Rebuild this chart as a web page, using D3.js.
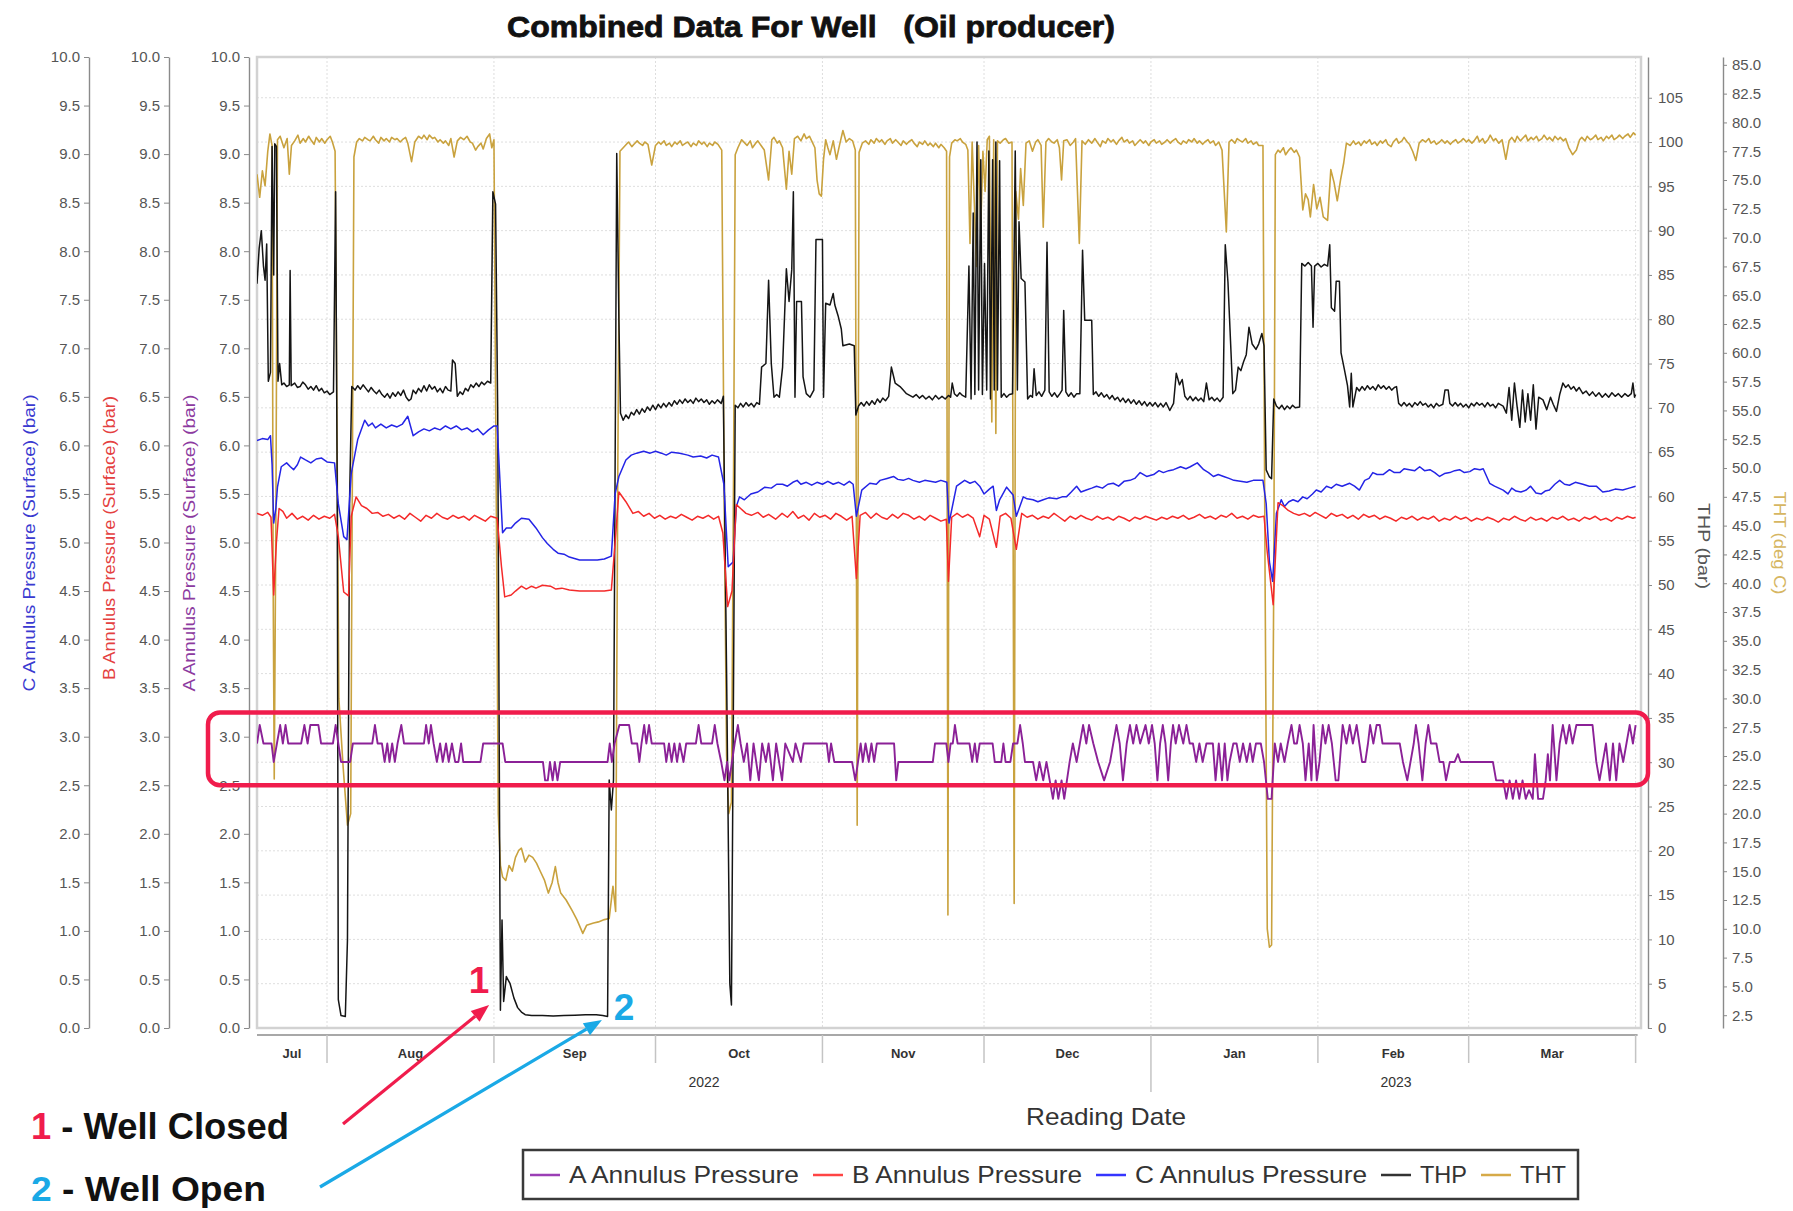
<!DOCTYPE html>
<html><head><meta charset="utf-8">
<script src="https://cdn.jsdelivr.net/npm/d3@7"></script>
<style>
html,body{margin:0;padding:0;background:#fff;}
svg{display:block;}
text{font-family:"Liberation Sans",Arial,Helvetica,sans-serif;}
</style></head><body>
<svg id="chart" width="1793" height="1211"></svg>
<script>
// ---------------- DATA ----------------
const startDate = Date.UTC(2022, 6, 19);   // day 0
const endDate = Date.UTC(2023, 3, 2);
const leftTicks = d3.range(0, 10.001, 0.5);
const thpTicks = d3.range(0, 106, 5);
const thtTicks = d3.range(2.5, 85.01, 2.5);
const monthLabels = ["Jul","Aug","Sep","Oct","Nov","Dec","Jan","Feb","Mar"];
const yearLabels = ["2022","2023"];
const seriesNames = ["A Annulus Pressure","B Annulus Pressure","C Annulus Pressure","THP","THT"];
const axisTitles = ["C Annulus Pressure (Surface) (bar)","B Annulus Pressure (Surface) (bar)","A Annulus Pressure (Surface) (bar)","THP (bar)","THT (deg C)"];
const chartTitle = "Combined Data For Well   (Oil producer)";
const highlightRange = [2.5, 3.25];          // A annulus band (bar)
const wellClosed = {label:"1", text:" - Well Closed", day:43.1, thp:2.6};
const wellOpen   = {label:"2", text:" - Well Open",   day:64.05, thp:0.9};

// [day since 2022-07-19, value]
const tht = [[0,75.5],[0.5,73.5],[1,75.8],[1.5,74.5],[2,77.5],[2.4,79],[2.8,78],[3,40],[3.2,23],[3.5,45],[3.8,78.5],[4.3,78.8],[5,77.8],[5.6,78.6],[6,75.5],[6.4,78],[7,78.4],[7.6,78.9],[8,78.2],[8.6,78.6],[9,78.3],[9.6,78.8],[10,78.5],[10.6,78.1],[11,78.7],[11.6,78.3],[12,78.6],[12.6,78.2],[13,78.5],[13.6,78.8],[14,78.3],[14.5,77.5],[15.2,30],[16,24],[16.8,19],[17.4,20],[18,77],[18.5,78.3],[19,78.6],[19.6,78.4],[20,78.7],[20.6,78.5],[21,78.4],[21.6,78.8],[22,78.5],[22.6,78.2],[23,78.7],[23.6,78.4],[24,78.6],[24.6,78.3],[25,78.7],[25.6,78.5],[26,78.6],[26.6,78.3],[27,78.5],[27.6,78.7],[28,78.2],[28.7,76.6],[29.3,78.3],[30,78.8],[30.6,78.6],[31,78.9],[31.6,78.5],[32,78.9],[32.6,78.6],[33,78.7],[33.6,78.3],[34,78.5],[34.6,78.2],[35,78.4],[35.6,78],[36,78.6],[36.6,77],[37.2,78.4],[37.8,78.7],[38.4,78.5],[39,78.8],[39.6,78.3],[40,78.2],[40.6,77.6],[41,77.9],[41.6,78.2],[42,77.7],[42.6,78.6],[43.2,79],[43.6,77.8],[44,78.5],[44.4,50],[44.8,20],[45.2,15.5],[45.6,14.5],[46.2,14.2],[46.8,15.5],[47.4,15],[48,16.2],[48.6,16.8],[49.1,17],[49.8,15.8],[50.5,16.4],[51.2,16.2],[51.9,15.7],[52.6,15],[53.4,14.2],[54.1,13.1],[54.8,14],[55.4,15.4],[55.9,14],[56.4,13.1],[57.4,12.5],[58.5,11.6],[59.4,10.8],[60.5,9.6],[61.2,10.3],[62.5,10.5],[63.4,10.6],[64.5,10.8],[65.4,10.9],[66.1,13.7],[66.6,11.5],[67,50],[67.4,77.5],[68,77.8],[68.6,78.1],[69,78.3],[69.6,77.9],[70,78.1],[70.6,78.4],[71,78.2],[71.6,78],[72,78.3],[72.6,78.1],[73.3,76.3],[74,78],[74.6,78.3],[75,78.1],[75.6,78.4],[76,78],[76.6,78.2],[77,77.9],[77.6,78.3],[78,78.1],[78.6,78.4],[79,78],[79.6,78.2],[80,78.3],[80.6,77.9],[81,78.2],[81.6,78],[82,78.4],[82.6,78.1],[83,78.3],[83.6,77.9],[84,78.2],[84.6,78],[85,78.3],[85.6,78.1],[86.3,77.6],[86.8,45],[87.2,25],[87.6,20],[88.1,21],[88.5,50],[88.8,77.2],[89.3,77.8],[90,78.5],[90.6,78.2],[91,78],[91.6,78.4],[92,77.8],[92.6,78.2],[93,78.4],[93.6,78],[94.2,77.6],[95,75],[95.6,78.5],[96,78.7],[96.6,78.2],[97,78.4],[97.6,77.8],[98.3,74.2],[98.8,77.5],[99.3,75.5],[99.8,78.6],[100.4,78.8],[101,78.4],[101.6,79],[102,78.6],[102.6,78.8],[103,78.4],[103.6,77.8],[104,75],[104.4,73.8],[104.8,73.6],[105.2,76.8],[105.6,78.5],[106,77.8],[106.4,77.2],[107,78.4],[107.6,76.8],[108.2,78.1],[108.8,79.3],[109.4,78.3],[110,78.6],[110.6,78.4],[111.1,77.6],[111.45,19],[111.8,77.4],[112.4,78.2],[113,78.4],[113.6,78.1],[114,78.5],[114.6,78.2],[115,78.6],[115.6,78.3],[116,78.5],[116.6,78.1],[117,78.4],[117.6,78.6],[118,78.2],[118.6,78.5],[119,78.3],[119.6,78],[120,78.4],[120.6,78.1],[121,78.3],[121.6,78.5],[122,78.2],[122.6,77.9],[123,78.3],[123.6,78.1],[124,78.4],[124.6,78],[125,78.2],[125.6,77.9],[126,78.2],[126.6,77.8],[127,78.1],[127.6,77.8],[128.05,77.5],[128.3,11.2],[128.6,77],[129,78.2],[129.6,78.5],[130,78.4],[130.6,78.6],[131,78.3],[131.6,78.1],[132,77.6],[132.4,69.5],[132.8,78.3],[133.2,73],[133.6,67.5],[134,78],[134.4,71],[134.8,77.5],[135.2,74],[135.6,78.5],[136,78.8],[136.45,54],[136.8,78.5],[137.2,53],[137.5,78.4],[138,78.2],[138.6,78.5],[139,78.6],[139.6,78.2],[140.2,78.3],[140.6,12.2],[140.9,74],[141.4,71.6],[141.8,76],[142.3,72.8],[142.8,78.2],[143.4,78.4],[144,77.5],[144.6,78.3],[145,78.5],[145.6,78],[146,70.9],[146.5,78.3],[147,78.6],[147.6,78.3],[148,78.2],[148.6,78.5],[149,77.8],[149.4,75],[149.8,78.4],[150.4,78.5],[151,78],[151.6,78.3],[152,78.6],[152.7,69.5],[153.2,78.4],[153.8,78.1],[154.4,78.5],[155,78.2],[155.6,78.6],[156,78.3],[156.6,77.9],[157,78.4],[157.6,78.2],[158,78.6],[158.6,78.3],[159,78.5],[159.6,78.1],[160,78.4],[160.6,78.7],[161,78.3],[161.6,78.5],[162,78.2],[162.6,78.4],[163,78],[163.6,78.3],[164,78.5],[164.6,78.2],[165,78.4],[165.6,78],[166,78.3],[166.6,78.5],[167,78.2],[167.6,78.4],[168,78.1],[168.6,78.3],[169,78.5],[169.6,78.2],[170,78.4],[170.6,78.6],[171,78.3],[171.6,78.1],[172,78.4],[172.6,78.2],[173,78.5],[173.6,78.3],[174,78.6],[174.6,78.2],[175,78.4],[175.6,78.1],[176,78.3],[176.6,78.5],[177,78.2],[177.6,78.4],[178,78],[178.6,78.3],[179.2,77.6],[180,70.5],[180.5,78.3],[181,78.5],[181.6,78.2],[182,78.6],[182.6,78.4],[183,78.3],[183.6,78.6],[184,78.2],[184.6,78.4],[185,78.1],[185.6,78.3],[186,78],[186.8,78],[187.2,40],[187.6,10],[188,8.4],[188.4,8.6],[188.8,40],[189.1,77.2],[189.6,77.6],[190,77.4],[190.6,77.8],[191,77.2],[191.6,77.6],[192,77.8],[192.6,77.4],[193,77.6],[193.6,77],[194.2,72.4],[194.7,73.8],[195.2,73.3],[195.6,71.8],[196.2,74.6],[196.8,72.5],[197.4,73.5],[198,71.8],[198.8,71.5],[199.4,75.9],[200,74.8],[200.6,73.2],[201.2,75],[201.8,76.5],[202.3,78.2],[203,78],[203.6,78.4],[204,78.1],[204.6,78.3],[205,78],[205.6,78.4],[206,78.2],[206.6,78.5],[207,78.1],[207.6,78.3],[208,78],[208.6,78.4],[209,78.2],[209.6,78.5],[210,78.1],[210.6,77.9],[211,78.3],[211.6,78.6],[212,78.2],[212.6,78.4],[213,78.7],[213.6,78.3],[214,78.1],[214.6,77.5],[215.2,76.7],[215.8,78.2],[216.4,78.5],[217,78.3],[217.6,78.6],[218,78.2],[218.6,78.4],[219,78.1],[219.6,78.3],[220,78.5],[220.6,78.2],[221,78.4],[221.6,78.1],[222,78.3],[222.6,78.5],[223,78.2],[223.6,78.4],[224,78.6],[224.6,78.3],[225,78.5],[225.6,78.2],[226,78.4],[226.6,78.8],[227,78.3],[227.6,78.6],[228,78.2],[228.6,78.5],[229,78.9],[229.6,78.4],[230,78.6],[230.6,78.2],[231.2,78.5],[231.9,76.8],[232.5,78.4],[233,78.7],[233.6,78.3],[234,78.8],[234.6,78.4],[235,78.6],[235.6,78.9],[236,78.4],[236.6,78.7],[237,78.5],[237.6,78.8],[238,78.4],[238.6,78.6],[239,78.9],[239.6,78.5],[240,78.7],[240.6,78.4],[241,78.8],[241.6,78.5],[242,78.7],[242.6,78.4],[243,78.6],[243.6,77.8],[244.3,77.2],[245,77.6],[245.6,78.5],[246,78.7],[246.6,78.4],[247,78.8],[247.6,78.5],[248,78.6],[248.6,78.9],[249,78.5],[249.6,78.7],[250,78.4],[250.6,78.8],[251,78.6],[251.6,78.9],[252,78.5],[252.6,78.7],[253,78.9],[253.6,78.6],[254,78.8],[254.6,79],[255,78.7],[255.6,79.1],[256,78.9]];

const thp = [[0,84],[0.4,88],[0.8,90],[1.2,86],[1.5,84.4],[1.8,88.5],[2.1,73],[2.5,74],[2.8,99.5],[3.1,85],[3.3,99.8],[3.6,99.5],[3.9,73],[4.2,75],[4.6,72.6],[5,72.8],[5.5,72.4],[6,72.6],[6.15,85.5],[6.35,72.5],[7,72.8],[7.5,72.3],[8,72.4],[8.5,72.9],[9,72.6],[9.5,72.1],[10,72.4],[10.5,72],[11,72.5],[11.5,71.9],[12,72.2],[12.5,71.7],[13,71.9],[13.5,71.5],[14.2,71.8],[14.6,94.4],[14.9,60],[15.1,3.2],[15.6,1.4],[16.4,1.3],[16.8,10],[17.2,60],[17.6,72.4],[18.2,72],[18.7,72.5],[19.2,72.1],[19.7,72.6],[20.2,72.2],[20.7,71.8],[21.2,72.3],[21.7,71.9],[22.2,71.6],[22.7,72],[23.2,71.5],[23.7,71.2],[24.2,71.6],[24.7,71.1],[25.2,71.7],[25.7,71.3],[26.2,71.8],[26.7,71.4],[27.2,72],[27.7,71.2],[28.2,70.8],[28.6,71],[29,72],[29.5,71.6],[30,72.2],[30.5,71.8],[31,72.5],[31.5,71.9],[32,72.6],[32.5,72.1],[33,72.4],[33.5,71.8],[34,72.2],[34.5,71.7],[35,72.4],[35.5,72],[36,71.9],[36.3,75.4],[36.8,75],[37.2,71.3],[37.7,71.8],[38.2,71.5],[38.7,72.2],[39.2,71.9],[39.7,72.6],[40.2,72.3],[40.7,72.8],[41.2,72.4],[41.7,72.9],[42.2,72.6],[42.8,73],[43.4,72.8],[43.8,94.4],[44.3,93],[44.7,69.4],[45.2,2],[45.5,12.2],[45.8,3],[46.3,5.8],[47,5],[47.7,3.4],[48.4,2.3],[49.1,1.8],[49.8,1.5],[51,1.4],[53,1.4],[55,1.35],[57,1.4],[59,1.45],[61,1.5],[63,1.5],[64.2,1.4],[65.1,1.3],[65.4,28],[65.8,24.6],[66.2,28],[66.8,98.7],[67.2,80],[67.5,69.4],[68,68.6],[68.5,69.2],[69,68.8],[69.5,69.5],[70,69.2],[70.5,69.8],[71,69.3],[71.5,69.9],[72,69.5],[72.5,70.1],[73,69.7],[73.5,70.3],[74,69.8],[74.5,70.4],[75,70],[75.5,70.5],[76,70.1],[76.5,70.6],[77,70.2],[77.5,70.8],[78,70.4],[78.5,70.9],[79,70.5],[79.5,71],[80,70.6],[80.5,70.9],[81,70.5],[81.5,71.1],[82,70.7],[82.5,71],[83,70.6],[83.5,70.9],[84,70.4],[84.5,70.8],[85,70.5],[85.5,70.9],[86.2,70.5],[86.6,71.3],[87.2,40],[87.8,5],[88.1,2.6],[88.5,40],[88.8,70.3],[89.3,70],[89.8,70.5],[90.3,70.1],[90.8,70.6],[91.3,70.2],[91.8,70.5],[92.3,70.1],[92.8,70.6],[93.3,70.4],[93.7,74.6],[94.5,75],[95,84.4],[95.5,75],[96,71.2],[96.5,71.5],[97,71.2],[97.6,74.6],[98.3,85.7],[98.8,82],[99.3,85.6],[99.6,94.4],[99.9,71.2],[100.2,82],[101.1,82],[101.4,73.5],[102,71.6],[102.7,71.2],[103.4,72],[103.8,89],[105,89],[105.2,71.2],[105.6,81.8],[106.4,81.6],[107,82.9],[107.3,81.6],[107.9,80.4],[108.5,78.9],[108.8,77],[110,77.2],[110.9,77],[111.2,69.2],[111.7,70.2],[112.2,70.6],[112.7,70.2],[113.2,70.7],[113.7,70.3],[114.2,70.8],[114.7,70.4],[115.2,71],[115.7,70.6],[116.2,71.1],[116.7,70.8],[117.3,71.3],[117.8,74.6],[118.5,72.8],[119.4,72.4],[120,72],[120.6,71.6],[121.2,71.4],[121.8,71.2],[122.4,71.5],[123,71.1],[123.6,71.4],[124.2,71],[124.8,71.3],[125.4,70.9],[126,71.4],[126.6,71],[127.2,71.3],[127.8,71],[128.4,71.4],[128.8,71.2],[129.1,72.8],[129.5,71.6],[130,71.3],[130.5,71.7],[131,71.4],[131.6,71.2],[132.2,86],[132.6,71],[133,92],[133.3,71.5],[133.7,100],[134,72],[134.4,98],[134.7,71.5],[135.1,86.3],[135.5,72],[135.9,99],[136.2,71],[136.6,98],[136.9,72],[137.2,100],[137.5,72],[137.9,97.9],[138.2,71.2],[138.7,71.6],[139.2,71.2],[139.7,71.5],[140.3,71.6],[140.8,99],[141.2,72],[141.5,91],[141.9,84.6],[142.6,84.2],[143.1,71],[143.6,71.4],[144,71.2],[144.3,74.4],[144.7,71.4],[145.2,71.8],[145.7,71.3],[146.3,72],[146.7,88.7],[147.1,71.8],[147.6,71.3],[148.1,71.7],[148.6,71.2],[149.1,71.6],[149.5,72],[149.8,81],[150.2,71.8],[150.7,71.3],[151.2,71.7],[151.7,71.2],[152.2,71.6],[152.8,71.6],[153.3,87.8],[153.7,79.9],[155,79.9],[155.3,71.5],[155.8,71.8],[156.3,71.3],[156.8,71.7],[157.3,71.2],[157.8,71.5],[158.3,71],[158.8,71.4],[159.3,70.9],[159.8,71.2],[160.3,70.7],[160.8,71.1],[161.3,70.6],[161.8,71],[162.3,70.5],[162.8,70.9],[163.3,70.4],[163.8,70.8],[164.3,70.3],[164.8,70.7],[165.3,70.2],[165.8,70.6],[166.3,70.2],[166.8,70.6],[167.3,70.1],[167.8,70.5],[168.3,70.1],[168.8,70.6],[169.5,69.7],[170.2,70.5],[170.7,73.9],[171.3,72.6],[171.8,73.2],[172.3,71.3],[172.8,70.9],[173.3,71.3],[173.8,70.8],[174.3,71.2],[174.8,70.8],[175.3,71.1],[175.8,70.7],[176.3,72.8],[176.8,70.9],[177.3,71.2],[177.8,70.8],[178.3,71.1],[178.8,70.7],[179.4,71.2],[179.8,88.4],[180.3,84.2],[180.8,77.2],[181.2,71.6],[181.7,72],[182.2,74.6],[182.7,74.2],[183.2,75.2],[183.7,76],[184.2,79.1],[184.8,77.2],[185.5,76.6],[186,77.2],[186.6,78.4],[187,77],[187.4,63],[188,62.2],[188.4,62],[188.8,71],[189.3,70.2],[189.8,69.9],[190.3,70.3],[190.8,69.8],[191.3,70.2],[191.8,69.9],[192.3,70.3],[192.8,70],[193.6,70.1],[194,86.3],[194.6,86],[195.2,86.4],[195.8,86],[196.1,79.1],[196.4,86],[197,86.3],[197.6,85.9],[198.2,86.2],[198.8,86],[199.2,88.4],[199.5,81.3],[200.1,80.9],[200.4,84.3],[201,84.3],[201.3,76.2],[201.9,74.4],[202.5,72.5],[202.9,70.1],[203.2,73.9],[203.5,70.1],[204.2,72.3],[204.7,71.9],[205.2,72.4],[205.7,72],[206.2,72.5],[206.7,72.1],[207.2,72.4],[207.7,72],[208.2,72.6],[208.7,72.2],[209.2,72.5],[209.7,72.1],[210.2,72.4],[210.7,72],[211.2,72.3],[211.6,72.4],[212,70.5],[212.5,70.2],[213,70.6],[213.5,70.2],[214,70.5],[214.5,70.1],[215,70.6],[215.5,70.3],[216,70.7],[216.5,70.3],[217,70.5],[217.5,70.1],[218,70.4],[218.5,70],[219,70.5],[219.5,70.2],[220.2,70.4],[220.6,72],[221.2,72],[221.5,70.5],[222,70.2],[222.5,70.6],[223,70.2],[223.5,70.5],[224,70.1],[224.5,70.4],[225,70],[225.5,70.5],[226,70.2],[226.5,70.6],[227,70.3],[227.5,70.5],[228,70.1],[228.5,70.6],[229,70.2],[229.5,70.4],[230,70],[230.5,70.5],[231.4,70.2],[232,69.4],[232.5,72.3],[233,68.6],[233.5,72.8],[234,70.1],[234.5,67.8],[235,72],[235.5,68.4],[236,71.6],[236.5,68.6],[237,72.6],[237.5,67.6],[238,71.2],[238.8,70.9],[239.5,69.8],[240.2,71.2],[240.7,70.4],[241.3,69.6],[241.9,71.5],[242.5,72.8],[243,72.3],[243.5,72.6],[244,72.1],[244.5,72.4],[245,71.9],[245.5,72.3],[246.2,71.6],[246.8,71.9],[247.4,71.4],[248,71.8],[248.6,71.3],[249.2,71.7],[249.8,71.2],[250.4,71.6],[251,71.2],[251.6,71.7],[252.2,71.3],[252.8,71.6],[253.4,71.2],[254,71.6],[254.6,71.3],[255.2,71.6],[255.5,72.8],[255.8,71.2],[256,71.5]];

const cAnnulus = [[0,6.05],[1,6.07],[2,6.06],[2.5,6.1],[2.8,5.8],[3.1,5.2],[3.5,5.35],[3.8,5.57],[4.5,5.78],[5.5,5.82],[6.2,5.78],[6.8,5.75],[7.5,5.8],[8.1,5.88],[9,5.85],[10,5.82],[11,5.86],[12,5.87],[13,5.83],[14.4,5.82],[15.1,5.4],[16.1,5.06],[16.7,5.03],[17.5,5.71],[18.7,6.06],[20,6.26],[20.7,6.2],[21.4,6.23],[22,6.18],[23,6.22],[24,6.18],[25,6.21],[26,6.19],[27,6.22],[28,6.3],[29,6.1],[30,6.14],[31,6.17],[32,6.15],[33,6.18],[34,6.16],[35,6.2],[36,6.17],[37,6.2],[38,6.16],[39,6.18],[40,6.14],[41,6.17],[42,6.11],[43,6.16],[44,6.2],[44.6,6.2],[45.6,5.1],[46.3,5.15],[47.2,5.15],[48,5.2],[49.1,5.25],[50.5,5.24],[51.8,5.15],[53,5.05],[53.9,4.99],[55,4.93],[55.9,4.89],[57,4.88],[58,4.85],[59.9,4.82],[61,4.82],[62,4.82],[63.2,4.82],[64.5,4.83],[65.8,4.86],[66.5,5.5],[67.2,5.68],[68.5,5.85],[69.5,5.9],[70.5,5.92],[71.8,5.94],[73,5.92],[74,5.94],[75.1,5.92],[76,5.9],[77,5.93],[78.5,5.92],[80,5.9],[81,5.88],[82.4,5.89],[83.5,5.87],[84.5,5.9],[85.7,5.88],[86.7,5.6],[87.5,4.75],[88.4,4.8],[89,5.37],[89.6,5.47],[90.5,5.44],[91.7,5.5],[93,5.52],[94.3,5.57],[95.5,5.56],[96.5,5.6],[97.6,5.6],[98.5,5.58],[99.5,5.62],[100.3,5.64],[101,5.6],[102,5.62],[103,5.59],[104,5.62],[105,5.6],[106,5.63],[107,5.6],[108,5.62],[109,5.59],[110,5.63],[110.7,5.6],[111.3,5.27],[112.3,5.54],[113.8,5.61],[115,5.6],[115.7,5.64],[117,5.66],[118.2,5.68],[119,5.65],[120,5.64],[121,5.66],[121.8,5.64],[123,5.62],[124,5.64],[125,5.63],[126,5.62],[127,5.64],[128.1,5.62],[128.5,5.2],[129.9,5.58],[131.4,5.64],[132.4,5.61],[133.3,5.63],[134.2,5.58],[135,5.5],[136,5.55],[136.7,5.58],[137.3,5.33],[137.9,5.44],[139.2,5.57],[140.4,5.49],[141,5.27],[142.3,5.47],[143,5.45],[144.1,5.44],[145,5.42],[146,5.44],[147,5.46],[148.5,5.45],[149.5,5.47],[150.3,5.47],[151.2,5.52],[152.2,5.58],[153,5.52],[154,5.54],[155,5.56],[155.9,5.58],[157,5.56],[158,5.6],[159,5.61],[160,5.58],[161,5.63],[162.1,5.64],[163,5.66],[164,5.72],[165.2,5.68],[166.5,5.7],[167.5,5.74],[168.3,5.72],[169.3,5.74],[170.2,5.75],[171.5,5.78],[172.5,5.76],[173.3,5.78],[174.6,5.82],[175.8,5.75],[176.7,5.72],[177.6,5.68],[178.5,5.7],[179.5,5.68],[180.5,5.66],[181.4,5.64],[182.6,5.63],[183.8,5.62],[185,5.64],[186.8,5.64],[187.4,5.4],[188,4.8],[188.6,4.6],[189.3,5.3],[190.2,5.44],[190.8,5.37],[191.6,5.42],[192.4,5.44],[193.3,5.42],[194.2,5.47],[195,5.45],[196,5.5],[196.7,5.54],[197.6,5.52],[198.6,5.58],[199.5,5.56],[200.4,5.6],[201.5,5.58],[202.9,5.61],[203.8,5.58],[204.7,5.54],[205.7,5.64],[206.5,5.66],[207.2,5.72],[208,5.7],[209.1,5.7],[210.3,5.75],[211.2,5.72],[212.2,5.72],[213,5.76],[214,5.75],[215,5.74],[215.9,5.78],[216.8,5.74],[217.8,5.75],[218.7,5.72],[219.6,5.68],[220.5,5.71],[221.5,5.72],[222.4,5.74],[223.3,5.75],[224.2,5.72],[225.2,5.73],[226.1,5.76],[227.1,5.75],[227.7,5.76],[228.9,5.61],[229.8,5.58],[230.6,5.56],[231.4,5.54],[232.3,5.5],[233,5.56],[233.8,5.53],[234.7,5.52],[235.7,5.54],[236.5,5.58],[237.5,5.51],[238.5,5.5],[239.2,5.53],[240,5.54],[241,5.6],[241.9,5.64],[242.8,5.6],[243.7,5.59],[244.8,5.62],[246.2,5.6],[247.4,5.58],[248.7,5.58],[249.9,5.52],[251.1,5.53],[252.2,5.55],[253.6,5.54],[254.8,5.56],[256,5.58]];

const bAnnulus = [[0,5.3],[1,5.28],[2,5.31],[2.6,5.26],[3.1,4.46],[3.6,5],[4.1,5.35],[4.8,5.32],[5.5,5.25],[6.5,5.3],[7.5,5.24],[8.5,5.27],[9.5,5.23],[10.5,5.28],[11.5,5.24],[12.5,5.27],[13.5,5.25],[14.4,5.29],[15.1,5.06],[16.1,4.49],[17,4.45],[17.5,5.27],[18.4,5.47],[19.4,5.38],[20.4,5.35],[21.4,5.3],[22.4,5.31],[23.4,5.27],[24.4,5.29],[25.4,5.25],[26.4,5.28],[27.4,5.24],[28.4,5.3],[29.4,5.26],[30.4,5.22],[31.4,5.28],[32.4,5.25],[33.4,5.3],[34.4,5.26],[35.4,5.24],[36.4,5.28],[37.4,5.25],[38.4,5.27],[39.4,5.23],[40.4,5.28],[41.4,5.25],[42.4,5.22],[43.4,5.27],[44.6,5.25],[45.4,4.75],[46,4.44],[47.2,4.46],[48,4.5],[49.1,4.55],[50,4.52],[51,4.55],[51.8,4.53],[53,4.56],[54.5,4.55],[55.5,4.52],[56.6,4.53],[58,4.51],[59.9,4.5],[61.5,4.5],[63.2,4.5],[64.5,4.5],[65.8,4.51],[66.5,5],[67.2,5.52],[68.5,5.42],[69.8,5.3],[70.8,5.32],[71.8,5.27],[72.8,5.3],[73.8,5.25],[74.8,5.28],[75.8,5.24],[76.8,5.27],[77.8,5.25],[78.8,5.29],[79.8,5.26],[80.8,5.23],[81.8,5.27],[82.8,5.25],[83.8,5.28],[84.8,5.24],[85.7,5.27],[86.5,5.1],[87.4,4.34],[88.2,4.5],[89,5.39],[89.8,5.35],[90.8,5.3],[91.8,5.28],[93,5.31],[94,5.26],[95,5.29],[96.3,5.24],[97.5,5.3],[98.5,5.26],[99.5,5.32],[100.5,5.25],[101.5,5.28],[102.5,5.23],[103.5,5.3],[104.5,5.26],[105.5,5.28],[106.5,5.24],[107.5,5.3],[108.5,5.27],[109.5,5.23],[110.5,5.27],[111.3,4.63],[112,5.28],[113,5.31],[114,5.25],[115,5.3],[116,5.26],[117,5.24],[118,5.29],[119,5.25],[120,5.3],[121,5.28],[122,5.24],[123,5.27],[124,5.23],[125,5.28],[126,5.25],[127,5.22],[128,5.24],[128.4,4.6],[129,5.26],[130,5.3],[131,5.26],[132,5.29],[133,5.25],[134.2,5.06],[135,5.28],[136,5.24],[137.3,4.95],[138,5.27],[139,5.3],[140,5.25],[141,4.93],[142,5.3],[143,5.26],[144,5.28],[145,5.24],[146,5.27],[147,5.25],[148,5.3],[149,5.26],[150,5.22],[151,5.27],[152,5.24],[153,5.28],[154,5.25],[155,5.23],[156,5.27],[157,5.24],[158,5.26],[159,5.23],[160,5.27],[161,5.25],[162,5.22],[163,5.26],[164,5.24],[165,5.27],[166,5.25],[167,5.23],[168,5.26],[169,5.24],[170,5.27],[171,5.25],[172,5.28],[173,5.24],[174,5.26],[175,5.29],[176,5.25],[177,5.27],[178,5.24],[179,5.28],[180,5.26],[181,5.3],[182,5.25],[183,5.27],[184,5.24],[185,5.28],[186,5.26],[187,5.27],[187.6,4.9],[188.7,4.36],[189.6,5.41],[190.5,5.38],[191.5,5.33],[192.5,5.3],[193.5,5.28],[194.5,5.3],[195.5,5.27],[196.5,5.31],[197.5,5.28],[198.5,5.25],[199.5,5.3],[200.5,5.27],[201.5,5.29],[202.5,5.25],[203.5,5.28],[204.5,5.24],[205.5,5.29],[206.5,5.26],[207.5,5.28],[208.5,5.24],[209.5,5.27],[210.5,5.25],[211.5,5.22],[212.5,5.26],[213.5,5.24],[214.5,5.27],[215.5,5.23],[216.5,5.26],[217.5,5.24],[218.5,5.27],[219.5,5.22],[220.5,5.25],[221.5,5.23],[222.5,5.27],[223.5,5.24],[224.5,5.26],[225.5,5.22],[226.5,5.25],[227.5,5.23],[228.5,5.26],[229.5,5.24],[230.5,5.21],[231.5,5.25],[232.5,5.23],[233.5,5.27],[234.5,5.24],[235.5,5.22],[236.5,5.26],[237.5,5.23],[238.5,5.25],[239.5,5.22],[240.5,5.26],[241.5,5.24],[242.5,5.27],[243.5,5.23],[244.5,5.25],[245.5,5.22],[246.5,5.26],[247.5,5.24],[248.5,5.27],[249.5,5.23],[250.5,5.25],[251.5,5.22],[252.5,5.26],[253.5,5.24],[254.5,5.27],[255.5,5.25],[256,5.26]];

const aAnnulus = [[0,2.93],[0.5,3.12],[1.2,2.93],[2.7,2.93],[3.1,2.74],[3.7,2.93],[4.3,3.12],[4.8,2.93],[5.3,3.12],[5.8,2.93],[8.2,2.93],[8.8,3.12],[9.4,2.93],[9.9,3.12],[11.4,3.12],[11.9,2.93],[14.1,2.93],[14.6,3.12],[15.1,2.93],[15.6,2.74],[17.3,2.74],[17.8,2.93],[21.4,2.93],[21.9,3.12],[22.4,2.93],[23.2,2.93],[23.7,2.74],[24.2,2.93],[24.6,2.74],[25.1,2.93],[25.6,2.74],[26.1,2.93],[26.8,3.12],[27.3,2.93],[31,2.93],[31.4,3.12],[31.9,2.93],[32.3,3.12],[32.8,2.93],[33.4,2.74],[34,2.93],[34.5,2.74],[35.1,2.93],[35.6,2.74],[36.2,2.93],[36.8,2.74],[37.4,2.74],[37.9,2.93],[38.3,2.74],[41.5,2.74],[42,2.93],[45.6,2.93],[46.1,2.74],[53.1,2.74],[53.5,2.55],[54,2.55],[54.4,2.74],[54.9,2.55],[55.3,2.74],[55.8,2.55],[56.3,2.74],[65.1,2.74],[65.5,2.93],[65.9,2.74],[66.4,2.93],[67.3,3.12],[69.1,3.12],[69.6,2.93],[70.6,2.93],[71,2.74],[71.4,2.93],[71.9,3.12],[72.3,2.93],[72.8,3.12],[73.3,2.93],[75.6,2.93],[76,2.74],[76.5,2.93],[77,2.74],[77.5,2.93],[78,2.74],[78.5,2.93],[79.2,2.74],[79.7,2.93],[81.5,2.93],[82,3.12],[82.5,2.93],[84.5,2.93],[85,3.12],[85.5,2.93],[86.2,2.74],[86.8,2.55],[87.3,2.74],[87.7,2.55],[88.2,2.74],[88.7,2.93],[89.3,3.12],[89.8,2.93],[90.4,2.74],[91,2.93],[91.6,2.55],[92.2,2.93],[93.2,2.55],[93.8,2.93],[94.5,2.74],[95,2.93],[95.8,2.55],[96.4,2.93],[97.5,2.55],[98.1,2.93],[99.5,2.74],[100,2.93],[101,2.74],[101.5,2.93],[105.8,2.93],[106.2,2.74],[106.6,2.93],[107.2,2.74],[110.5,2.74],[111.1,2.55],[111.6,2.74],[112.1,2.93],[112.5,2.74],[113,2.93],[113.6,2.74],[114.1,2.93],[114.6,2.74],[115.1,2.93],[118.3,2.93],[118.7,2.55],[119.1,2.74],[125.5,2.74],[125.9,2.93],[128,2.93],[128.4,2.74],[128.8,2.93],[129.2,2.93],[129.6,3.12],[130.1,2.93],[132.3,2.93],[132.8,2.74],[133.3,2.93],[133.7,2.74],[134.2,2.93],[136.6,2.93],[137,2.74],[138.2,2.74],[138.6,2.93],[139,2.74],[139.9,2.74],[140.4,2.93],[141.2,2.93],[141.7,3.12],[142.2,2.93],[142.6,2.74],[144.1,2.74],[144.7,2.55],[145.3,2.74],[146,2.55],[146.6,2.74],[147.2,2.55],[147.8,2.36],[148.3,2.55],[148.8,2.36],[149.4,2.55],[149.9,2.36],[150.4,2.55],[150.9,2.74],[151.5,2.93],[152.2,2.74],[152.8,2.93],[153.4,3.12],[154,2.93],[154.5,3.12],[155.3,2.93],[156.2,2.74],[157.3,2.55],[158.4,2.74],[159,2.93],[159.6,3.12],[160.2,2.93],[160.8,2.55],[161.5,2.93],[162.1,3.12],[162.7,2.93],[163.3,3.12],[164,2.93],[165,3.12],[165.6,2.93],[166.2,3.12],[166.7,2.93],[167.2,2.55],[167.7,2.93],[168.2,3.12],[168.7,2.93],[169.2,2.55],[169.7,2.93],[170.1,3.12],[170.6,2.93],[171.2,3.12],[172,2.93],[172.6,3.12],[173.2,2.93],[173.8,2.93],[174.4,2.74],[175,2.93],[175.6,2.74],[176.3,2.93],[177.5,2.93],[178,2.55],[178.6,2.93],[179.2,2.55],[179.7,2.93],[180.2,2.55],[180.6,2.74],[181.3,2.93],[181.9,2.93],[182.5,2.74],[183.1,2.93],[183.8,2.74],[184.4,2.93],[184.9,2.74],[185.5,2.93],[186.4,2.93],[187,2.74],[187.7,2.36],[188.4,2.36],[189,2.93],[189.6,2.74],[190.1,2.93],[190.8,2.74],[191.4,2.93],[192.1,3.12],[192.6,2.93],[193.1,2.93],[193.6,3.12],[194.2,2.93],[194.7,2.55],[195.3,2.93],[195.8,2.55],[196.2,3.12],[196.8,2.55],[197.3,2.74],[197.9,3.12],[198.4,2.93],[199,3.12],[199.6,2.93],[200.3,2.55],[200.8,2.55],[201.6,3.12],[202.3,2.93],[202.9,3.12],[203.5,2.93],[204.2,3.12],[204.7,2.93],[205.2,2.74],[205.8,2.74],[206.3,2.93],[206.7,3.12],[207.3,2.93],[207.9,3.12],[208.5,3.12],[209,2.93],[212.2,2.93],[212.8,2.74],[213.6,2.55],[214.2,2.74],[214.8,2.93],[215.2,3.12],[215.7,2.93],[216.4,2.55],[217,2.93],[217.5,3.12],[218,2.93],[219,2.93],[219.6,2.74],[220.3,2.74],[220.8,2.55],[221.5,2.74],[222.4,2.74],[223,2.82],[223.5,2.74],[229.5,2.74],[230.1,2.55],[231.4,2.55],[232,2.36],[232.6,2.55],[233.2,2.36],[233.8,2.55],[234.4,2.36],[235,2.55],[235.6,2.36],[236.2,2.45],[236.9,2.36],[237.3,2.82],[237.9,2.36],[238.8,2.36],[239.3,2.55],[239.7,2.82],[240.1,2.55],[240.6,3.12],[241.3,2.55],[241.9,2.93],[242.5,3.12],[243.1,2.93],[243.7,3.12],[244.3,2.93],[245,3.12],[248,3.12],[248.7,2.74],[249.3,2.55],[249.9,2.74],[250.5,2.93],[251.2,2.55],[251.8,2.93],[252.4,2.55],[253,2.93],[253.7,2.74],[254.3,2.93],[254.9,3.12],[255.5,2.93],[256,3.12]];

// ---------------- STYLE / LAYOUT ----------------
const colors = {A:"#8b2197", B:"#f42a2a", C:"#2424e6", THP:"#151515", THT:"#c9a23e"};
const legendColors = ["#9b3fb5","#ff4444","#3535ff","#333333","#d6aa48"];
const legendTextWidths = [230,230,232,47,46];
const plot = {left:257, right:1641, top:57, bottom:1028};
const svg = d3.select("#chart");
const dayMs = 864e5;
const toDate = d => new Date(startDate + d*dayMs);

const x = d3.scaleUtc().domain([new Date(startDate), new Date(endDate)]).range([plot.left, plot.right]);
const yLeft = d3.scaleLinear().domain([0,10]).range([plot.bottom, plot.top]);
const yTHP = d3.scaleLinear().domain([0,109.6]).range([plot.bottom, plot.top]);
const yTHT = d3.scaleLinear().domain([1.39,85.68]).range([plot.bottom, plot.top]);

svg.append("rect").attr("width",1793).attr("height",1211).attr("fill","#fff");

// Title
svg.append("text").attr("x",811).attr("y",37).attr("text-anchor","middle")
  .attr("font-size",30).attr("font-weight","bold").style("white-space","pre")
  .attr("textLength",608).attr("lengthAdjust","spacingAndGlyphs")
  .attr("fill","#111").attr("stroke","#111").attr("stroke-width",0.8)
  .text(chartTitle);

// Grid
const monthStarts = d3.utcMonth.range(new Date(startDate+dayMs), new Date(endDate));
const grid = svg.append("g");
grid.selectAll("line.h").data(thpTicks.filter(t=>t>0)).join("line")
  .attr("x1",plot.left).attr("x2",plot.right)
  .attr("y1",d=>yTHP(d)).attr("y2",d=>yTHP(d))
  .attr("stroke","#dedede").attr("stroke-width",1).attr("stroke-dasharray","2,2");
grid.selectAll("line.v").data(monthStarts).join("line")
  .attr("x1",d=>x(d)).attr("x2",d=>x(d)).attr("y1",plot.top).attr("y2",plot.bottom)
  .attr("stroke","#dedede").attr("stroke-width",1).attr("stroke-dasharray","2,2");

// Plot frame
svg.append("rect").attr("x",plot.left).attr("y",plot.top)
  .attr("width",plot.right-plot.left).attr("height",plot.bottom-plot.top)
  .attr("fill","none").attr("stroke","#d2d2d2").attr("stroke-width",2.5);

// Left axes
function styleAxis(g){
  g.select(".domain").attr("stroke","#8a8a8a").attr("stroke-width",1.4);
  g.selectAll(".tick line").attr("stroke","#8a8a8a");
  g.selectAll(".tick text").attr("fill","#555").attr("font-size",15)
   .attr("font-family","'Liberation Sans',Arial,sans-serif");
}
[89,169,249].forEach(px=>{
  svg.append("g").attr("transform",`translate(${px},0)`)
    .call(d3.axisLeft(yLeft).tickValues(leftTicks).tickFormat(d3.format(".1f")).tickSize(5).tickPadding(4).tickSizeOuter(0))
    .call(styleAxis);
});
svg.append("g").attr("transform","translate(1648,0)")
  .call(d3.axisRight(yTHP).tickValues(thpTicks).tickFormat(d3.format("d")).tickSize(4).tickPadding(6).tickSizeOuter(0))
  .call(styleAxis);
svg.append("g").attr("transform","translate(1723,0)")
  .call(d3.axisRight(yTHT).tickValues(thtTicks).tickFormat(d3.format(".1f")).tickSize(4).tickPadding(5).tickSizeOuter(0))
  .call(styleAxis);

// Axis titles
const titleSpecs = [
  {t:axisTitles[0], x:29, y:543, rot:-90, c:"#3a3ad0", len:297},
  {t:axisTitles[1], x:109, y:538, rot:-90, c:"#e44040", len:284},
  {t:axisTitles[2], x:189, y:543, rot:-90, c:"#8c3aa0", len:297},
  {t:axisTitles[3], x:1704, y:546, rot:90, c:"#555", len:86},
  {t:axisTitles[4], x:1780, y:543, rot:90, c:"#d6b662", len:103}
];
titleSpecs.forEach(s=>{
  svg.append("text").attr("transform",`translate(${s.x},${s.y}) rotate(${s.rot})`)
    .attr("text-anchor","middle").attr("dy","0.35em").attr("font-size",16)
    .attr("fill",s.c).attr("textLength",s.len).attr("lengthAdjust","spacingAndGlyphs").text(s.t);
});

// Series
svg.append("clipPath").attr("id","plotclip").append("rect")
  .attr("x",plot.left).attr("y",plot.top).attr("width",plot.right-plot.left).attr("height",plot.bottom-plot.top);
const lines = svg.append("g").attr("clip-path","url(#plotclip)");
function drawSeries(data, yScale, color, w){
  lines.append("path").datum(data)
    .attr("d", d3.line().x(p=>x(toDate(p[0]))).y(p=>yScale(p[1])))
    .attr("fill","none").attr("stroke",color).attr("stroke-width",w)
    .attr("stroke-linejoin","round");
}
drawSeries(tht, yTHT, colors.THT, 1.6);
drawSeries(thp, yTHP, colors.THP, 1.5);
drawSeries(cAnnulus, yLeft, colors.C, 1.5);
drawSeries(bAnnulus, yLeft, colors.B, 1.5);
drawSeries(aAnnulus, yLeft, colors.A, 1.9);

// X axis (two-level date axis)
const xa = svg.append("g");
const axisY = 1035;
xa.append("line").attr("x1",plot.left).attr("x2",x(new Date(Date.UTC(2023,3,1)))+2)
  .attr("y1",axisY).attr("y2",axisY).attr("stroke","#a8a8a8").attr("stroke-width",2);
const yearStart = new Date(Date.UTC(2023,0,1));
xa.selectAll("line.sep").data(monthStarts).join("line")
  .attr("x1",d=>x(d)).attr("x2",d=>x(d)).attr("y1",axisY)
  .attr("y2",d=>+d===+yearStart?1092:1063)
  .attr("stroke","#c4c4c4").attr("stroke-width",1.5);
const monthStartsAll = d3.utcMonth.range(new Date(Date.UTC(2022,6,1)), new Date(Date.UTC(2023,3,1)));
xa.selectAll("text.m").data(monthLabels).join("text")
  .attr("x",(d,i)=>{
    const a = Math.max(+monthStartsAll[i], startDate);
    const b = d3.utcMonth.offset(monthStartsAll[i],1);
    return (x(new Date(a))+x(b))/2;
  })
  .attr("y",1058).attr("text-anchor","middle").attr("font-size",13).attr("font-weight","bold")
  .attr("fill","#333").text(d=>d);
const yearBounds = [[new Date(startDate), yearStart],[yearStart, new Date(endDate)]];
xa.selectAll("text.y").data(yearLabels).join("text")
  .attr("x",(d,i)=>(x(yearBounds[i][0])+x(yearBounds[i][1]))/2)
  .attr("y",1087).attr("text-anchor","middle").attr("font-size",14).attr("fill","#333").text(d=>d);
svg.append("text").attr("x",1106).attr("y",1125).attr("text-anchor","middle").attr("font-size",24)
  .attr("fill","#333").attr("textLength",160).attr("lengthAdjust","spacingAndGlyphs").text("Reading Date");

// Legend
const lg = svg.append("g");
lg.append("rect").attr("x",523).attr("y",1150).attr("width",1055).attr("height",49)
  .attr("fill","#fff").attr("stroke","#3a3a3a").attr("stroke-width",2.5);
let lx = 530;
seriesNames.forEach((n,i)=>{
  lg.append("line").attr("x1",lx).attr("x2",lx+30).attr("y1",1175).attr("y2",1175)
    .attr("stroke",legendColors[i]).attr("stroke-width",2.5);
  lg.append("text").attr("x",lx+39).attr("y",1183).attr("font-size",24).attr("fill","#333")
    .attr("textLength",legendTextWidths[i]).attr("lengthAdjust","spacingAndGlyphs").text(n);
  lx += 39 + legendTextWidths[i] + 14;
});

// Highlight band around A annulus
svg.append("rect").attr("x",208).attr("y",yLeft(highlightRange[1]))
  .attr("width",1648-208).attr("height",yLeft(highlightRange[0])-yLeft(highlightRange[1]))
  .attr("rx",12).attr("fill","none").attr("stroke","#f01c4c").attr("stroke-width",4.5);

// Annotations
function arrow(x1,y1,x2,y2,color){
  const ang = Math.atan2(y2-y1,x2-x1), L=18, Wd=7;
  const bx = x2 - L*Math.cos(ang), by = y2 - L*Math.sin(ang);
  svg.append("line").attr("x1",x1).attr("y1",y1).attr("x2",bx).attr("y2",by)
    .attr("stroke",color).attr("stroke-width",3.2);
  svg.append("path").attr("d",`M${x2},${y2}L${bx+Wd*Math.sin(ang)},${by-Wd*Math.cos(ang)}L${bx-Wd*Math.sin(ang)},${by+Wd*Math.cos(ang)}Z`)
    .attr("fill",color);
}
const red = "#f01c4c", blue = "#1aa9e6";
const pc = [x(toDate(wellClosed.day)), yTHP(wellClosed.thp)];
const po = [x(toDate(wellOpen.day)), yTHP(wellOpen.thp)];
arrow(343,1124,pc[0],pc[1],red);
arrow(320,1187,po[0],po[1],blue);
svg.append("text").attr("x",pc[0]-10).attr("y",pc[1]-12).attr("text-anchor","middle")
  .attr("font-size",37).attr("font-weight","bold").attr("font-family","Lato,'Open Sans',sans-serif")
  .attr("fill",red).text(wellClosed.label);
svg.append("text").attr("x",po[0]+22).attr("y",po[1]+0).attr("text-anchor","middle")
  .attr("font-size",37).attr("font-weight","bold").attr("font-family","Lato,'Open Sans',sans-serif")
  .attr("fill",blue).text(wellOpen.label);
[[wellClosed,1139,258,red,37],[wellOpen,1201,235,blue,35]].forEach(([w,yy,len,c,fs])=>{
  const t = svg.append("text").attr("x",31).attr("y",yy).attr("font-size",fs).attr("font-weight","bold")
    .attr("font-family","Lato,'Open Sans',sans-serif").style("white-space","pre")
    .attr("textLength",len).attr("lengthAdjust","spacingAndGlyphs");
  t.append("tspan").attr("fill",c).text(w.label);
  t.append("tspan").attr("fill","#111").text(w.text);
});
</script>
</body></html>
